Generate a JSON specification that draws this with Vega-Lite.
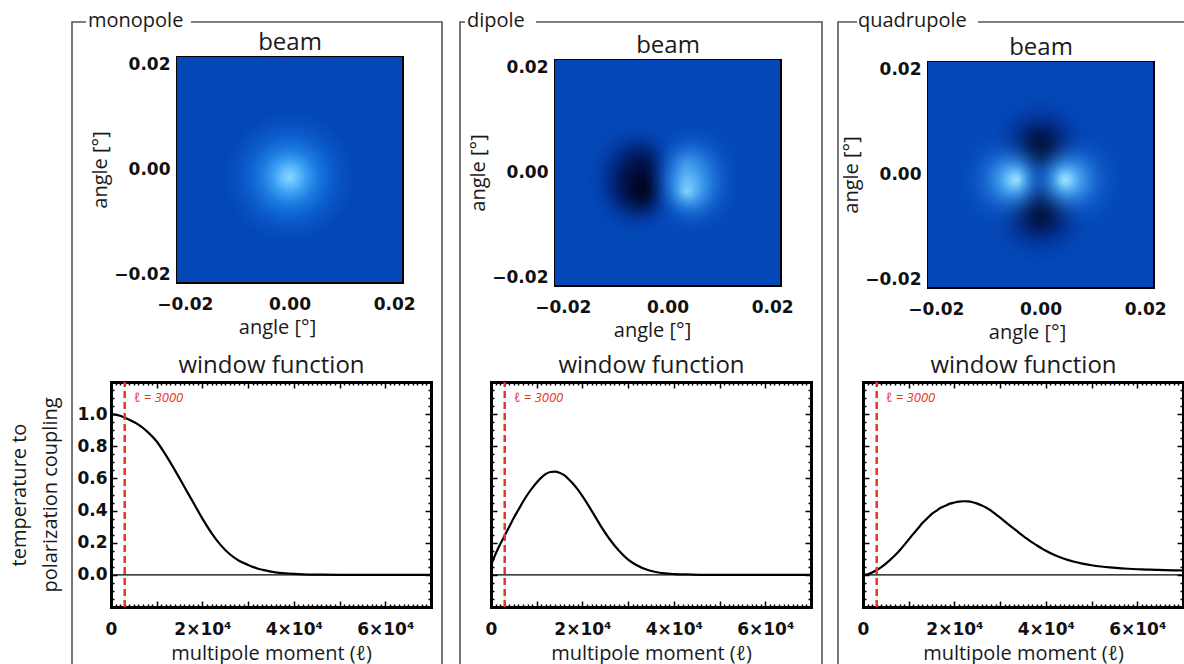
{
 "$schema": "https://vega.github.io/schema/vega-lite/v6.json",
 "width": 1184, "height": 664,
 "autosize": {"type": "none"},
 "padding": 0,
 "background": "white",
 "config": {
  "view": {"stroke": null},
  "font": "Open Sans",
  "axis": {"grid": false, "domainColor": "#000", "domainWidth": 3, "domainCap": "square", "tickColor": "#000", "tickWidth": 1.5,
   "labelFont": "DejaVu Sans", "labelFontWeight": "bold", "labelFontSize": 17, "labelColor": "#111", "labelFlush": false, "labelOverlap": false,
   "titleFont": "Open Sans", "titleFontWeight": "normal", "titleFontSize": 20, "titleColor": "#1a1a1a", "zindex": 1}
 },
 "datasets": {
  "lobes": [
   {"panel":"monopole","lobe":"m","ax":0,"ay":-0.0014,"d":0.025},
   {"panel":"dipole","lobe":"dd","ax":-0.0066,"ay":0.001,"d":0.02},
   {"panel":"dipole","lobe":"dd","ax":-0.0066,"ay":-0.0013,"d":0.02},
   {"panel":"dipole","lobe":"dd","ax":-0.0066,"ay":-0.0036,"d":0.02},
   {"panel":"dipole","lobe":"dl","ax":0.0056,"ay":0.001,"d":0.02},
   {"panel":"dipole","lobe":"dl","ax":0.0056,"ay":-0.0013,"d":0.02},
   {"panel":"dipole","lobe":"dl","ax":0.0056,"ay":-0.0036,"d":0.02},
   {"panel":"quadrupole","lobe":"qt","ax":0,"ay":0.0058,"d":0.022},
   {"panel":"quadrupole","lobe":"qb","ax":0,"ay":-0.0078,"d":0.022},
   {"panel":"quadrupole","lobe":"ql","ax":-0.0068,"ay":-0.001,"d":0.022},
   {"panel":"quadrupole","lobe":"qr","ax":0.0068,"ay":-0.001,"d":0.022}
  ],
  "curves": [
   {"panel":"monopole","l":0,"w":1.0},{"panel":"monopole","l":2000,"w":0.99},{"panel":"monopole","l":4000,"w":0.965},{"panel":"monopole","l":6000,"w":0.935},{"panel":"monopole","l":8000,"w":0.89},{"panel":"monopole","l":10000,"w":0.83},{"panel":"monopole","l":12000,"w":0.745},{"panel":"monopole","l":14000,"w":0.65},{"panel":"monopole","l":16000,"w":0.55},{"panel":"monopole","l":18000,"w":0.45},{"panel":"monopole","l":20000,"w":0.35},{"panel":"monopole","l":22000,"w":0.26},{"panel":"monopole","l":24000,"w":0.185},{"panel":"monopole","l":26000,"w":0.128},{"panel":"monopole","l":28000,"w":0.088},{"panel":"monopole","l":30000,"w":0.062},{"panel":"monopole","l":32000,"w":0.04},{"panel":"monopole","l":34000,"w":0.026},{"panel":"monopole","l":36000,"w":0.016},{"panel":"monopole","l":38000,"w":0.01},{"panel":"monopole","l":40000,"w":0.006},{"panel":"monopole","l":42000,"w":0.003},{"panel":"monopole","l":46000,"w":0.001},{"panel":"monopole","l":50000,"w":0},{"panel":"monopole","l":60000,"w":0},{"panel":"monopole","l":70000,"w":0},
   {"panel":"dipole","l":0,"w":0.06},{"panel":"dipole","l":1000,"w":0.13},{"panel":"dipole","l":2000,"w":0.19},{"panel":"dipole","l":3000,"w":0.245},{"panel":"dipole","l":4000,"w":0.3},{"panel":"dipole","l":5000,"w":0.355},{"panel":"dipole","l":6000,"w":0.405},{"panel":"dipole","l":7000,"w":0.455},{"panel":"dipole","l":8000,"w":0.5},{"panel":"dipole","l":9000,"w":0.54},{"panel":"dipole","l":10000,"w":0.575},{"panel":"dipole","l":11000,"w":0.605},{"panel":"dipole","l":12000,"w":0.628},{"panel":"dipole","l":13000,"w":0.64},{"panel":"dipole","l":14000,"w":0.642},{"panel":"dipole","l":15000,"w":0.635},{"panel":"dipole","l":16000,"w":0.62},{"panel":"dipole","l":17000,"w":0.595},{"panel":"dipole","l":18000,"w":0.565},{"panel":"dipole","l":19000,"w":0.53},{"panel":"dipole","l":20000,"w":0.49},{"panel":"dipole","l":22000,"w":0.4},{"panel":"dipole","l":24000,"w":0.305},{"panel":"dipole","l":26000,"w":0.22},{"panel":"dipole","l":28000,"w":0.15},{"panel":"dipole","l":30000,"w":0.095},{"panel":"dipole","l":32000,"w":0.058},{"panel":"dipole","l":34000,"w":0.033},{"panel":"dipole","l":36000,"w":0.018},{"panel":"dipole","l":38000,"w":0.009},{"panel":"dipole","l":40000,"w":0.005},{"panel":"dipole","l":44000,"w":0.002},{"panel":"dipole","l":50000,"w":0},{"panel":"dipole","l":60000,"w":0},{"panel":"dipole","l":70000,"w":0},
   {"panel":"quadrupole","l":0,"w":0},{"panel":"quadrupole","l":1000,"w":0.004},{"panel":"quadrupole","l":2000,"w":0.015},{"panel":"quadrupole","l":3000,"w":0.03},{"panel":"quadrupole","l":4000,"w":0.048},{"panel":"quadrupole","l":5000,"w":0.07},{"panel":"quadrupole","l":6000,"w":0.095},{"panel":"quadrupole","l":7000,"w":0.122},{"panel":"quadrupole","l":8000,"w":0.152},{"panel":"quadrupole","l":9000,"w":0.185},{"panel":"quadrupole","l":10000,"w":0.22},{"panel":"quadrupole","l":11000,"w":0.255},{"panel":"quadrupole","l":12000,"w":0.288},{"panel":"quadrupole","l":13000,"w":0.322},{"panel":"quadrupole","l":14000,"w":0.35},{"panel":"quadrupole","l":15000,"w":0.378},{"panel":"quadrupole","l":16000,"w":0.398},{"panel":"quadrupole","l":17000,"w":0.418},{"panel":"quadrupole","l":18000,"w":0.43},{"panel":"quadrupole","l":19000,"w":0.443},{"panel":"quadrupole","l":20000,"w":0.45},{"panel":"quadrupole","l":21000,"w":0.456},{"panel":"quadrupole","l":22000,"w":0.458},{"panel":"quadrupole","l":23000,"w":0.457},{"panel":"quadrupole","l":24000,"w":0.452},{"panel":"quadrupole","l":25000,"w":0.443},{"panel":"quadrupole","l":26000,"w":0.432},{"panel":"quadrupole","l":27000,"w":0.418},{"panel":"quadrupole","l":28000,"w":0.4},{"panel":"quadrupole","l":29000,"w":0.378},{"panel":"quadrupole","l":30000,"w":0.356},{"panel":"quadrupole","l":31000,"w":0.333},{"panel":"quadrupole","l":32000,"w":0.31},{"panel":"quadrupole","l":33000,"w":0.288},{"panel":"quadrupole","l":34000,"w":0.265},{"panel":"quadrupole","l":35000,"w":0.243},{"panel":"quadrupole","l":36000,"w":0.222},{"panel":"quadrupole","l":37000,"w":0.202},{"panel":"quadrupole","l":38000,"w":0.184},{"panel":"quadrupole","l":39000,"w":0.166},{"panel":"quadrupole","l":40000,"w":0.15},{"panel":"quadrupole","l":42000,"w":0.122},{"panel":"quadrupole","l":44000,"w":0.1},{"panel":"quadrupole","l":46000,"w":0.083},{"panel":"quadrupole","l":48000,"w":0.07},{"panel":"quadrupole","l":50000,"w":0.06},{"panel":"quadrupole","l":52000,"w":0.052},{"panel":"quadrupole","l":54000,"w":0.046},{"panel":"quadrupole","l":56000,"w":0.042},{"panel":"quadrupole","l":58000,"w":0.038},{"panel":"quadrupole","l":60000,"w":0.035},{"panel":"quadrupole","l":62000,"w":0.033},{"panel":"quadrupole","l":64000,"w":0.031},{"panel":"quadrupole","l":66000,"w":0.029},{"panel":"quadrupole","l":68000,"w":0.028},{"panel":"quadrupole","l":70000,"w":0.027}
  ],
  "zero": [{"l":0,"z":0},{"l":70000,"z":0}],
  "marker": [{"l":3000,"label":"ℓ = 3000"}]
 },
 "layer": [
  {
   "data": {"values": [{"panel":"monopole"}]},
   "layer": [
    {"mark": {"type":"rect","fillOpacity":0,"stroke":"#555","strokeWidth":1.6,"strokeDash":[14,105,4000]},
     "encoding": {"x": {"field":"panel","type":"nominal","scale":{"range":[72,442],"paddingInner":0,"paddingOuter":0},"axis":null},
                  "y": {"field":"panel","type":"nominal","scale":{"range":[22,720],"paddingInner":0,"paddingOuter":0},"axis":null}}},
    {"mark": {"type":"text","align":"left","baseline":"alphabetic","dx":16,"dy":4.5,"fontSize":20,"font":"Open Sans","color":"#1a1a1a"},
     "encoding": {"x": {"field":"panel","type":"nominal","bandPosition":0,"scale":{"range":[72,442],"paddingInner":0,"paddingOuter":0},"axis":null},
                  "y": {"field":"panel","type":"nominal","bandPosition":0,"scale":{"range":[22,720],"paddingInner":0,"paddingOuter":0},"axis":null},
                  "text": {"field":"panel"}}}
   ]
  },
  {
   "data": {"values": [{"panel":"dipole"}]},
   "layer": [
    {"mark": {"type":"rect","fillOpacity":0,"stroke":"#555","strokeWidth":1.6,"strokeDash":[5,71,4000]},
     "encoding": {"x": {"field":"panel","type":"nominal","scale":{"range":[460,822],"paddingInner":0,"paddingOuter":0},"axis":null},
                  "y": {"field":"panel","type":"nominal","scale":{"range":[22,720],"paddingInner":0,"paddingOuter":0},"axis":null}}},
    {"mark": {"type":"text","align":"left","baseline":"alphabetic","dx":7,"dy":4.5,"fontSize":20,"font":"Open Sans","color":"#1a1a1a"},
     "encoding": {"x": {"field":"panel","type":"nominal","bandPosition":0,"scale":{"range":[460,822],"paddingInner":0,"paddingOuter":0},"axis":null},
                  "y": {"field":"panel","type":"nominal","bandPosition":0,"scale":{"range":[22,720],"paddingInner":0,"paddingOuter":0},"axis":null},
                  "text": {"field":"panel"}}}
   ]
  },
  {
   "data": {"values": [{"panel":"quadrupole"}]},
   "layer": [
    {"mark": {"type":"rect","fillOpacity":0,"stroke":"#555","strokeWidth":1.6,"strokeDash":[19,121,4000]},
     "encoding": {"x": {"field":"panel","type":"nominal","scale":{"range":[838,1210],"paddingInner":0,"paddingOuter":0},"axis":null},
                  "y": {"field":"panel","type":"nominal","scale":{"range":[22,720],"paddingInner":0,"paddingOuter":0},"axis":null}}},
    {"mark": {"type":"text","align":"left","baseline":"alphabetic","dx":20,"dy":4.5,"fontSize":20,"font":"Open Sans","color":"#1a1a1a"},
     "encoding": {"x": {"field":"panel","type":"nominal","bandPosition":0,"scale":{"range":[838,1210],"paddingInner":0,"paddingOuter":0},"axis":null},
                  "y": {"field":"panel","type":"nominal","bandPosition":0,"scale":{"range":[22,720],"paddingInner":0,"paddingOuter":0},"axis":null},
                  "text": {"field":"panel"}}}
   ]
  },
  {
   "data": {"values": [{"panel":"monopole"}]},
   "mark": {"type":"rect","fill":"#0448b8"},
   "encoding": {"x": {"field":"panel","type":"nominal","scale":{"range":[177,402],"paddingInner":0,"paddingOuter":0},"axis":null},
                "y": {"field":"panel","type":"nominal","scale":{"range":[57,282],"paddingInner":0,"paddingOuter":0},"axis":null}}
  },
  {
   "data": {"values": [{"panel":"dipole"}]},
   "mark": {"type":"rect","fill":"#0448b8"},
   "encoding": {"x": {"field":"panel","type":"nominal","scale":{"range":[555,780],"paddingInner":0,"paddingOuter":0},"axis":null},
                "y": {"field":"panel","type":"nominal","scale":{"range":[60,285],"paddingInner":0,"paddingOuter":0},"axis":null}}
  },
  {
   "data": {"values": [{"panel":"quadrupole"}]},
   "mark": {"type":"rect","fill":"#0448b8"},
   "encoding": {"x": {"field":"panel","type":"nominal","scale":{"range":[928,1153],"paddingInner":0,"paddingOuter":0},"axis":null},
                "y": {"field":"panel","type":"nominal","scale":{"range":[62,287],"paddingInner":0,"paddingOuter":0},"axis":null}}
  },
  {
   "data": {"name": "lobes"},
   "transform": [{"filter": "datum.panel == 'monopole'"}],
   "layer": [
    {"mark": {"type":"point","shape":"circle","filled":true,"opacity":1,"strokeWidth":0,
      "fill": {"gradient":"radial","x1":0.5,"y1":0.5,"r1":0,"x2":0.5,"y2":0.5,"r2":0.5,"stops":[{"offset":0,"color":"#8ad5ff"},{"offset":0.1,"color":"#6cc4ff"},{"offset":0.25,"color":"#3a9ff2"},{"offset":0.42,"color":"#1c7ae0"},{"offset":0.62,"color":"#0d60ce"},{"offset":0.82,"color":"#074fbf"},{"offset":1,"color":"#0448b8"}]}},
     "encoding": {
      "x": {"field":"ax","type":"quantitative","scale":{"domain":[-0.0215,0.0215],"range":[177,402],"nice":false,"zero":false},
            "axis": {"orient":"bottom","offset":-382,"values":[-0.021,-0.02,-0.019,-0.018,-0.017,-0.016,-0.015,-0.014,-0.013,-0.012,-0.011,-0.01,-0.009,-0.008,-0.007,-0.006,-0.005,-0.004,-0.003,-0.002,-0.001,0,0.001,0.002,0.003,0.004,0.005,0.006,0.007,0.008,0.009,0.01,0.011,0.012,0.013,0.014,0.015,0.016,0.017,0.018,0.019,0.02,0.021],
             "tickSize":{"condition":{"test":"abs(datum.value*100-round(datum.value*100))<1e-6","value":-6},"value":-3},
             "labelExpr":"abs(datum.value*50-round(datum.value*50))<1e-6 ? format(datum.value,'.2f') : ''","labelPadding":20,"title":"angle [°]","titlePadding":2,"titleX":277}},
      "y": {"field":"ay","type":"quantitative","scale":{"domain":[-0.0215,0.0215],"range":[282,57],"nice":false,"zero":false},
            "axis": {"orient":"left","offset":-177,"values":[-0.021,-0.02,-0.019,-0.018,-0.017,-0.016,-0.015,-0.014,-0.013,-0.012,-0.011,-0.01,-0.009,-0.008,-0.007,-0.006,-0.005,-0.004,-0.003,-0.002,-0.001,0,0.001,0.002,0.003,0.004,0.005,0.006,0.007,0.008,0.009,0.01,0.011,0.012,0.013,0.014,0.015,0.016,0.017,0.018,0.019,0.02,0.021],
             "tickSize":{"condition":{"test":"abs(datum.value*100-round(datum.value*100))<1e-6","value":-6},"value":-3},
             "labelExpr":"abs(datum.value*50-round(datum.value*50))<1e-6 ? format(datum.value,'.2f') : ''","labelPadding":13,"title":"angle [°]","titlePadding":3}},
      "size": {"field":"d","type":"quantitative","scale":{"type":"pow","exponent":2,"domain":[0,0.043],"range":[0,50625]},"legend":null}
     }},
    {"mark": {"type":"point","shape":"circle","filled":true,"opacity":0},
     "encoding": {
      "x": {"field":"ax","type":"quantitative","scale":{"domain":[-0.0215,0.0215],"range":[177,402],"nice":false,"zero":false},
            "axis": {"orient":"top","offset":-57,"values":[-0.021,-0.02,-0.019,-0.018,-0.017,-0.016,-0.015,-0.014,-0.013,-0.012,-0.011,-0.01,-0.009,-0.008,-0.007,-0.006,-0.005,-0.004,-0.003,-0.002,-0.001,0,0.001,0.002,0.003,0.004,0.005,0.006,0.007,0.008,0.009,0.01,0.011,0.012,0.013,0.014,0.015,0.016,0.017,0.018,0.019,0.02,0.021],
             "tickSize":{"condition":{"test":"abs(datum.value*100-round(datum.value*100))<1e-6","value":-6},"value":-3},
             "labels":false,"title":"beam","titleFontSize":24,"titlePadding":2}},
      "y": {"field":"ay","type":"quantitative","scale":{"domain":[-0.0215,0.0215],"range":[282,57],"nice":false,"zero":false},
            "axis": {"orient":"right","offset":-782,"values":[-0.021,-0.02,-0.019,-0.018,-0.017,-0.016,-0.015,-0.014,-0.013,-0.012,-0.011,-0.01,-0.009,-0.008,-0.007,-0.006,-0.005,-0.004,-0.003,-0.002,-0.001,0,0.001,0.002,0.003,0.004,0.005,0.006,0.007,0.008,0.009,0.01,0.011,0.012,0.013,0.014,0.015,0.016,0.017,0.018,0.019,0.02,0.021],
             "tickSize":{"condition":{"test":"abs(datum.value*100-round(datum.value*100))<1e-6","value":-6},"value":-3},
             "labels":false,"title":null}},
      "size": {"field":"d","type":"quantitative","scale":{"type":"pow","exponent":2,"domain":[0,0.043],"range":[0,50625]},"legend":null}
     }}
   ],
   "resolve": {"axis": {"x":"independent","y":"independent"}}
  },
  {
   "data": {"name": "lobes"},
   "transform": [{"filter": "datum.panel == 'dipole'"}],
   "layer": [
    {"transform": [{"filter": "datum.lobe == 'dd'"}],
     "mark": {"type":"point","shape":"circle","filled":true,"opacity":1,"strokeWidth":0,
      "fill": {"gradient":"radial","x1":0.6,"y1":0.5,"r1":0,"x2":0.5,"y2":0.5,"r2":0.5,"stops":[{"offset":0,"color":"rgba(0,3,25,0.85)"},{"offset":0.15,"color":"rgba(0,5,32,0.75)"},{"offset":0.35,"color":"rgba(0,14,65,0.55)"},{"offset":0.55,"color":"rgba(0,28,110,0.3)"},{"offset":0.75,"color":"rgba(2,45,150,0.12)"},{"offset":0.9,"color":"rgba(3,60,170,0.04)"},{"offset":1,"color":"rgba(4,72,184,0)"}]}},
     "encoding": {
      "x": {"field":"ax","type":"quantitative","scale":{"domain":[-0.0215,0.0215],"range":[555,780],"nice":false,"zero":false},
            "axis": {"orient":"bottom","offset":-379,"values":[-0.021,-0.02,-0.019,-0.018,-0.017,-0.016,-0.015,-0.014,-0.013,-0.012,-0.011,-0.01,-0.009,-0.008,-0.007,-0.006,-0.005,-0.004,-0.003,-0.002,-0.001,0,0.001,0.002,0.003,0.004,0.005,0.006,0.007,0.008,0.009,0.01,0.011,0.012,0.013,0.014,0.015,0.016,0.017,0.018,0.019,0.02,0.021],
             "tickSize":{"condition":{"test":"abs(datum.value*100-round(datum.value*100))<1e-6","value":-6},"value":-3},
             "labelExpr":"abs(datum.value*50-round(datum.value*50))<1e-6 ? format(datum.value,'.2f') : ''","labelPadding":20,"title":"angle [°]","titlePadding":2,"titleX":652}},
      "y": {"field":"ay","type":"quantitative","scale":{"domain":[-0.0215,0.0215],"range":[285,60],"nice":false,"zero":false},
            "axis": {"orient":"left","offset":-555,"values":[-0.021,-0.02,-0.019,-0.018,-0.017,-0.016,-0.015,-0.014,-0.013,-0.012,-0.011,-0.01,-0.009,-0.008,-0.007,-0.006,-0.005,-0.004,-0.003,-0.002,-0.001,0,0.001,0.002,0.003,0.004,0.005,0.006,0.007,0.008,0.009,0.01,0.011,0.012,0.013,0.014,0.015,0.016,0.017,0.018,0.019,0.02,0.021],
             "tickSize":{"condition":{"test":"abs(datum.value*100-round(datum.value*100))<1e-6","value":-6},"value":-3},
             "labelExpr":"abs(datum.value*50-round(datum.value*50))<1e-6 ? format(datum.value,'.2f') : ''","labelPadding":13,"title":"angle [°]","titlePadding":3}},
      "size": {"field":"d","type":"quantitative","scale":{"type":"pow","exponent":2,"domain":[0,0.043],"range":[0,50625]},"legend":null}
     }},
    {"transform": [{"filter": "datum.lobe == 'dl'"}],
     "mark": {"type":"point","shape":"circle","filled":true,"opacity":1,"strokeWidth":0,
      "fill": {"gradient":"radial","x1":0.4,"y1":0.5,"r1":0,"x2":0.5,"y2":0.5,"r2":0.5,"stops":[{"offset":0,"color":"rgba(155,224,255,0.8)"},{"offset":0.1,"color":"rgba(125,208,255,0.72)"},{"offset":0.25,"color":"rgba(75,172,248,0.58)"},{"offset":0.45,"color":"rgba(40,130,228,0.38)"},{"offset":0.65,"color":"rgba(20,100,210,0.18)"},{"offset":0.85,"color":"rgba(8,80,195,0.05)"},{"offset":1,"color":"rgba(4,72,184,0)"}]}},
     "encoding": {
      "x": {"field":"ax","type":"quantitative","scale":{"domain":[-0.0215,0.0215],"range":[555,780],"nice":false,"zero":false},
            "axis": {"orient":"top","offset":-60,"values":[-0.021,-0.02,-0.019,-0.018,-0.017,-0.016,-0.015,-0.014,-0.013,-0.012,-0.011,-0.01,-0.009,-0.008,-0.007,-0.006,-0.005,-0.004,-0.003,-0.002,-0.001,0,0.001,0.002,0.003,0.004,0.005,0.006,0.007,0.008,0.009,0.01,0.011,0.012,0.013,0.014,0.015,0.016,0.017,0.018,0.019,0.02,0.021],
             "tickSize":{"condition":{"test":"abs(datum.value*100-round(datum.value*100))<1e-6","value":-6},"value":-3},
             "labels":false,"title":"beam","titleFontSize":24,"titlePadding":2}},
      "y": {"field":"ay","type":"quantitative","scale":{"domain":[-0.0215,0.0215],"range":[285,60],"nice":false,"zero":false},
            "axis": {"orient":"right","offset":-404,"values":[-0.021,-0.02,-0.019,-0.018,-0.017,-0.016,-0.015,-0.014,-0.013,-0.012,-0.011,-0.01,-0.009,-0.008,-0.007,-0.006,-0.005,-0.004,-0.003,-0.002,-0.001,0,0.001,0.002,0.003,0.004,0.005,0.006,0.007,0.008,0.009,0.01,0.011,0.012,0.013,0.014,0.015,0.016,0.017,0.018,0.019,0.02,0.021],
             "tickSize":{"condition":{"test":"abs(datum.value*100-round(datum.value*100))<1e-6","value":-6},"value":-3},
             "labels":false,"title":null}},
      "size": {"field":"d","type":"quantitative","scale":{"type":"pow","exponent":2,"domain":[0,0.043],"range":[0,50625]},"legend":null}
     }}
   ],
   "resolve": {"axis": {"x":"independent","y":"independent"}}
  },
  {
   "data": {"name": "lobes"},
   "transform": [{"filter": "datum.panel == 'quadrupole'"}],
   "layer": [
    {"transform": [{"filter": "datum.lobe == 'qt'"}],
     "mark": {"type":"point","shape":"circle","filled":true,"opacity":1,"strokeWidth":0,
      "fill": {"gradient":"radial","x1":0.5,"y1":0.6,"r1":0,"x2":0.5,"y2":0.5,"r2":0.5,"stops":[{"offset":0,"color":"rgba(0,3,25,1)"},{"offset":0.15,"color":"rgba(0,5,32,0.95)"},{"offset":0.35,"color":"rgba(0,14,65,0.75)"},{"offset":0.55,"color":"rgba(0,28,110,0.45)"},{"offset":0.75,"color":"rgba(2,45,150,0.18)"},{"offset":0.9,"color":"rgba(3,60,170,0.05)"},{"offset":1,"color":"rgba(4,72,184,0)"}]}},
     "encoding": {
      "x": {"field":"ax","type":"quantitative","scale":{"domain":[-0.0215,0.0215],"range":[928,1153],"nice":false,"zero":false},
            "axis": {"orient":"bottom","offset":-377,"values":[-0.021,-0.02,-0.019,-0.018,-0.017,-0.016,-0.015,-0.014,-0.013,-0.012,-0.011,-0.01,-0.009,-0.008,-0.007,-0.006,-0.005,-0.004,-0.003,-0.002,-0.001,0,0.001,0.002,0.003,0.004,0.005,0.006,0.007,0.008,0.009,0.01,0.011,0.012,0.013,0.014,0.015,0.016,0.017,0.018,0.019,0.02,0.021],
             "tickSize":{"condition":{"test":"abs(datum.value*100-round(datum.value*100))<1e-6","value":-6},"value":-3},
             "labelExpr":"abs(datum.value*50-round(datum.value*50))<1e-6 ? format(datum.value,'.2f') : ''","labelPadding":20,"title":"angle [°]","titlePadding":2,"titleX":1027}},
      "y": {"field":"ay","type":"quantitative","scale":{"domain":[-0.0215,0.0215],"range":[287,62],"nice":false,"zero":false},
            "axis": {"orient":"left","offset":-928,"values":[-0.021,-0.02,-0.019,-0.018,-0.017,-0.016,-0.015,-0.014,-0.013,-0.012,-0.011,-0.01,-0.009,-0.008,-0.007,-0.006,-0.005,-0.004,-0.003,-0.002,-0.001,0,0.001,0.002,0.003,0.004,0.005,0.006,0.007,0.008,0.009,0.01,0.011,0.012,0.013,0.014,0.015,0.016,0.017,0.018,0.019,0.02,0.021],
             "tickSize":{"condition":{"test":"abs(datum.value*100-round(datum.value*100))<1e-6","value":-6},"value":-3},
             "labelExpr":"abs(datum.value*50-round(datum.value*50))<1e-6 ? format(datum.value,'.2f') : ''","labelPadding":13,"title":"angle [°]","titlePadding":3}},
      "size": {"field":"d","type":"quantitative","scale":{"type":"pow","exponent":2,"domain":[0,0.043],"range":[0,50625]},"legend":null}
     }},
    {"transform": [{"filter": "datum.lobe == 'qb'"}],
     "mark": {"type":"point","shape":"circle","filled":true,"opacity":1,"strokeWidth":0,
      "fill": {"gradient":"radial","x1":0.5,"y1":0.4,"r1":0,"x2":0.5,"y2":0.5,"r2":0.5,"stops":[{"offset":0,"color":"rgba(0,3,25,1)"},{"offset":0.15,"color":"rgba(0,5,32,0.95)"},{"offset":0.35,"color":"rgba(0,14,65,0.75)"},{"offset":0.55,"color":"rgba(0,28,110,0.45)"},{"offset":0.75,"color":"rgba(2,45,150,0.18)"},{"offset":0.9,"color":"rgba(3,60,170,0.05)"},{"offset":1,"color":"rgba(4,72,184,0)"}]}},
     "encoding": {
      "x": {"field":"ax","type":"quantitative","scale":{"domain":[-0.0215,0.0215],"range":[928,1153],"nice":false,"zero":false},
            "axis": {"orient":"top","offset":-62,"values":[-0.021,-0.02,-0.019,-0.018,-0.017,-0.016,-0.015,-0.014,-0.013,-0.012,-0.011,-0.01,-0.009,-0.008,-0.007,-0.006,-0.005,-0.004,-0.003,-0.002,-0.001,0,0.001,0.002,0.003,0.004,0.005,0.006,0.007,0.008,0.009,0.01,0.011,0.012,0.013,0.014,0.015,0.016,0.017,0.018,0.019,0.02,0.021],
             "tickSize":{"condition":{"test":"abs(datum.value*100-round(datum.value*100))<1e-6","value":-6},"value":-3},
             "labels":false,"title":"beam","titleFontSize":24,"titlePadding":2}},
      "y": {"field":"ay","type":"quantitative","scale":{"domain":[-0.0215,0.0215],"range":[287,62],"nice":false,"zero":false},
            "axis": {"orient":"right","offset":-31,"values":[-0.021,-0.02,-0.019,-0.018,-0.017,-0.016,-0.015,-0.014,-0.013,-0.012,-0.011,-0.01,-0.009,-0.008,-0.007,-0.006,-0.005,-0.004,-0.003,-0.002,-0.001,0,0.001,0.002,0.003,0.004,0.005,0.006,0.007,0.008,0.009,0.01,0.011,0.012,0.013,0.014,0.015,0.016,0.017,0.018,0.019,0.02,0.021],
             "tickSize":{"condition":{"test":"abs(datum.value*100-round(datum.value*100))<1e-6","value":-6},"value":-3},
             "labels":false,"title":null}},
      "size": {"field":"d","type":"quantitative","scale":{"type":"pow","exponent":2,"domain":[0,0.043],"range":[0,50625]},"legend":null}
     }},
    {"transform": [{"filter": "datum.lobe == 'ql'"}],
     "mark": {"type":"point","shape":"circle","filled":true,"opacity":1,"strokeWidth":0,
      "fill": {"gradient":"radial","x1":0.6,"y1":0.5,"r1":0,"x2":0.5,"y2":0.5,"r2":0.5,"stops":[{"offset":0,"color":"rgba(160,226,255,1)"},{"offset":0.1,"color":"rgba(125,208,255,0.95)"},{"offset":0.25,"color":"rgba(75,172,248,0.8)"},{"offset":0.45,"color":"rgba(40,130,228,0.55)"},{"offset":0.65,"color":"rgba(20,100,210,0.28)"},{"offset":0.85,"color":"rgba(8,80,195,0.08)"},{"offset":1,"color":"rgba(4,72,184,0)"}]}},
     "encoding": {
      "x": {"field":"ax","type":"quantitative","scale":{"domain":[-0.0215,0.0215],"range":[928,1153],"nice":false,"zero":false},"axis":null},
      "y": {"field":"ay","type":"quantitative","scale":{"domain":[-0.0215,0.0215],"range":[287,62],"nice":false,"zero":false},"axis":null},
      "size": {"field":"d","type":"quantitative","scale":{"type":"pow","exponent":2,"domain":[0,0.043],"range":[0,50625]},"legend":null}
     }},
    {"transform": [{"filter": "datum.lobe == 'qr'"}],
     "mark": {"type":"point","shape":"circle","filled":true,"opacity":1,"strokeWidth":0,
      "fill": {"gradient":"radial","x1":0.4,"y1":0.5,"r1":0,"x2":0.5,"y2":0.5,"r2":0.5,"stops":[{"offset":0,"color":"rgba(160,226,255,1)"},{"offset":0.1,"color":"rgba(125,208,255,0.95)"},{"offset":0.25,"color":"rgba(75,172,248,0.8)"},{"offset":0.45,"color":"rgba(40,130,228,0.55)"},{"offset":0.65,"color":"rgba(20,100,210,0.28)"},{"offset":0.85,"color":"rgba(8,80,195,0.08)"},{"offset":1,"color":"rgba(4,72,184,0)"}]}},
     "encoding": {
      "x": {"field":"ax","type":"quantitative","scale":{"domain":[-0.0215,0.0215],"range":[928,1153],"nice":false,"zero":false},"axis":null},
      "y": {"field":"ay","type":"quantitative","scale":{"domain":[-0.0215,0.0215],"range":[287,62],"nice":false,"zero":false},"axis":null},
      "size": {"field":"d","type":"quantitative","scale":{"type":"pow","exponent":2,"domain":[0,0.043],"range":[0,50625]},"legend":null}
     }}
   ],
   "resolve": {"axis": {"x":"independent","y":"independent"}}
  },
  {
   "layer": [
    {"data": {"name":"curves"}, "transform": [{"filter": "datum.panel == 'monopole'"}],
     "mark": {"type":"line","color":"#000","strokeWidth":2.2,"interpolate":"monotone"},
     "encoding": {
      "x": {"field":"l","type":"quantitative","scale":{"domain":[0,70000],"range":[111,431],"nice":false,"zero":false},
            "axis": {"orient":"bottom","offset":-57,"values":[0,1000,2000,3000,4000,5000,6000,7000,8000,9000,10000,11000,12000,13000,14000,15000,16000,17000,18000,19000,20000,21000,22000,23000,24000,25000,26000,27000,28000,29000,30000,31000,32000,33000,34000,35000,36000,37000,38000,39000,40000,41000,42000,43000,44000,45000,46000,47000,48000,49000,50000,51000,52000,53000,54000,55000,56000,57000,58000,59000,60000,61000,62000,63000,64000,65000,66000,67000,68000,69000,70000],
             "tickSize":{"condition":{"test":"datum.value % 10000 == 0","value":-6},"value":-3},
             "labelExpr":"datum.value % 20000 == 0 && datum.value < 70000 ? (datum.value == 0 ? '0' : (datum.value/10000) + '×10⁴') : ''","labelPadding":20,"title":"multipole moment (ℓ)","titlePadding":3}},
      "y": {"field":"w","type":"quantitative","scale":{"domain":[-0.2,1.2],"range":[607,382],"nice":false,"zero":false},
            "axis": {"orient":"left","offset":-111,"values":[-0.2,-0.15,-0.1,-0.05,0,0.05,0.1,0.15,0.2,0.25,0.3,0.35,0.4,0.45,0.5,0.55,0.6,0.65,0.7,0.75,0.8,0.85,0.9,0.95,1,1.05,1.1,1.15,1.2],
             "tickSize":{"condition":{"test":"abs(datum.value*5-round(datum.value*5))<1e-6","value":-6},"value":-3},
             "labelExpr":"abs(datum.value*5-round(datum.value*5))<1e-6 && datum.value > -0.01 && datum.value < 1.01 ? format(datum.value,'.1f') : ''","labelPadding":10,
             "title":["temperature to","polarization coupling"],"titlePadding":16,"titleLineHeight":31}}
     }},
    {"data": {"name":"zero"},
     "mark": {"type":"line","color":"#000","strokeWidth":1.3},
     "encoding": {
      "x": {"field":"l","type":"quantitative","scale":{"domain":[0,70000],"range":[111,431],"nice":false,"zero":false},
            "axis": {"orient":"top","offset":-382,"values":[0,1000,2000,3000,4000,5000,6000,7000,8000,9000,10000,11000,12000,13000,14000,15000,16000,17000,18000,19000,20000,21000,22000,23000,24000,25000,26000,27000,28000,29000,30000,31000,32000,33000,34000,35000,36000,37000,38000,39000,40000,41000,42000,43000,44000,45000,46000,47000,48000,49000,50000,51000,52000,53000,54000,55000,56000,57000,58000,59000,60000,61000,62000,63000,64000,65000,66000,67000,68000,69000,70000],
             "tickSize":{"condition":{"test":"datum.value % 10000 == 0","value":-6},"value":-3},
             "labels":false,"title":"window function","titleFontSize":24,"titlePadding":4}},
      "y": {"field":"z","type":"quantitative","scale":{"domain":[-0.2,1.2],"range":[607,382],"nice":false,"zero":false},
            "axis": {"orient":"right","offset":-753,"values":[-0.2,-0.15,-0.1,-0.05,0,0.05,0.1,0.15,0.2,0.25,0.3,0.35,0.4,0.45,0.5,0.55,0.6,0.65,0.7,0.75,0.8,0.85,0.9,0.95,1,1.05,1.1,1.15,1.2],
             "tickSize":{"condition":{"test":"abs(datum.value*5-round(datum.value*5))<1e-6","value":-6},"value":-3},
             "labels":false,"title":null}}
     }},
    {"data": {"name":"marker"},
     "mark": {"type":"rule","color":"#e8361e","strokeWidth":2.5,"strokeDash":[7,4]},
     "encoding": {
      "x": {"field":"l","type":"quantitative","scale":{"domain":[0,70000],"range":[111,431],"nice":false,"zero":false},"axis":null},
      "y": {"datum":-0.2,"type":"quantitative","scale":{"domain":[-0.2,1.2],"range":[607,382],"nice":false,"zero":false},"axis":null},
      "y2": {"datum":1.2}
     }},
    {"data": {"name":"marker"},
     "mark": {"type":"text","align":"left","baseline":"middle","dx":9,"font":"Open Sans","fontStyle":"italic","fontSize":13,"color":"#e8361e"},
     "encoding": {
      "x": {"field":"l","type":"quantitative","scale":{"domain":[0,70000],"range":[111,431],"nice":false,"zero":false},"axis":null},
      "y": {"datum":1.1,"type":"quantitative","scale":{"domain":[-0.2,1.2],"range":[607,382],"nice":false,"zero":false},"axis":null},
      "text": {"field":"label"}
     }}
   ],
   "resolve": {"axis": {"x":"independent","y":"independent"}}
  },
  {
   "layer": [
    {"data": {"name":"curves"}, "transform": [{"filter": "datum.panel == 'dipole'"}],
     "mark": {"type":"line","color":"#000","strokeWidth":2.2,"interpolate":"monotone"},
     "encoding": {
      "x": {"field":"l","type":"quantitative","scale":{"domain":[0,70000],"range":[491,811],"nice":false,"zero":false},
            "axis": {"orient":"bottom","offset":-57,"values":[0,1000,2000,3000,4000,5000,6000,7000,8000,9000,10000,11000,12000,13000,14000,15000,16000,17000,18000,19000,20000,21000,22000,23000,24000,25000,26000,27000,28000,29000,30000,31000,32000,33000,34000,35000,36000,37000,38000,39000,40000,41000,42000,43000,44000,45000,46000,47000,48000,49000,50000,51000,52000,53000,54000,55000,56000,57000,58000,59000,60000,61000,62000,63000,64000,65000,66000,67000,68000,69000,70000],
             "tickSize":{"condition":{"test":"datum.value % 10000 == 0","value":-6},"value":-3},
             "labelExpr":"datum.value % 20000 == 0 && datum.value < 70000 ? (datum.value == 0 ? '0' : (datum.value/10000) + '×10⁴') : ''","labelPadding":20,"title":"multipole moment (ℓ)","titlePadding":3}},
      "y": {"field":"w","type":"quantitative","scale":{"domain":[-0.2,1.2],"range":[607,382],"nice":false,"zero":false},
            "axis": {"orient":"left","offset":-491,"values":[-0.2,-0.15,-0.1,-0.05,0,0.05,0.1,0.15,0.2,0.25,0.3,0.35,0.4,0.45,0.5,0.55,0.6,0.65,0.7,0.75,0.8,0.85,0.9,0.95,1,1.05,1.1,1.15,1.2],
             "tickSize":{"condition":{"test":"abs(datum.value*5-round(datum.value*5))<1e-6","value":-6},"value":-3},
             "labels":false,"title":null}}
     }},
    {"data": {"name":"zero"},
     "mark": {"type":"line","color":"#000","strokeWidth":1.3},
     "encoding": {
      "x": {"field":"l","type":"quantitative","scale":{"domain":[0,70000],"range":[491,811],"nice":false,"zero":false},
            "axis": {"orient":"top","offset":-382,"values":[0,1000,2000,3000,4000,5000,6000,7000,8000,9000,10000,11000,12000,13000,14000,15000,16000,17000,18000,19000,20000,21000,22000,23000,24000,25000,26000,27000,28000,29000,30000,31000,32000,33000,34000,35000,36000,37000,38000,39000,40000,41000,42000,43000,44000,45000,46000,47000,48000,49000,50000,51000,52000,53000,54000,55000,56000,57000,58000,59000,60000,61000,62000,63000,64000,65000,66000,67000,68000,69000,70000],
             "tickSize":{"condition":{"test":"datum.value % 10000 == 0","value":-6},"value":-3},
             "labels":false,"title":"window function","titleFontSize":24,"titlePadding":4}},
      "y": {"field":"z","type":"quantitative","scale":{"domain":[-0.2,1.2],"range":[607,382],"nice":false,"zero":false},
            "axis": {"orient":"right","offset":-373,"values":[-0.2,-0.15,-0.1,-0.05,0,0.05,0.1,0.15,0.2,0.25,0.3,0.35,0.4,0.45,0.5,0.55,0.6,0.65,0.7,0.75,0.8,0.85,0.9,0.95,1,1.05,1.1,1.15,1.2],
             "tickSize":{"condition":{"test":"abs(datum.value*5-round(datum.value*5))<1e-6","value":-6},"value":-3},
             "labels":false,"title":null}}
     }},
    {"data": {"name":"marker"},
     "mark": {"type":"rule","color":"#e8361e","strokeWidth":2.5,"strokeDash":[7,4]},
     "encoding": {
      "x": {"field":"l","type":"quantitative","scale":{"domain":[0,70000],"range":[491,811],"nice":false,"zero":false},"axis":null},
      "y": {"datum":-0.2,"type":"quantitative","scale":{"domain":[-0.2,1.2],"range":[607,382],"nice":false,"zero":false},"axis":null},
      "y2": {"datum":1.2}
     }},
    {"data": {"name":"marker"},
     "mark": {"type":"text","align":"left","baseline":"middle","dx":9,"font":"Open Sans","fontStyle":"italic","fontSize":13,"color":"#e8361e"},
     "encoding": {
      "x": {"field":"l","type":"quantitative","scale":{"domain":[0,70000],"range":[491,811],"nice":false,"zero":false},"axis":null},
      "y": {"datum":1.1,"type":"quantitative","scale":{"domain":[-0.2,1.2],"range":[607,382],"nice":false,"zero":false},"axis":null},
      "text": {"field":"label"}
     }}
   ],
   "resolve": {"axis": {"x":"independent","y":"independent"}}
  },
  {
   "layer": [
    {"data": {"name":"curves"}, "transform": [{"filter": "datum.panel == 'quadrupole'"}],
     "mark": {"type":"line","color":"#000","strokeWidth":2.2,"interpolate":"monotone"},
     "encoding": {
      "x": {"field":"l","type":"quantitative","scale":{"domain":[0,70000],"range":[863,1183],"nice":false,"zero":false},
            "axis": {"orient":"bottom","offset":-57,"values":[0,1000,2000,3000,4000,5000,6000,7000,8000,9000,10000,11000,12000,13000,14000,15000,16000,17000,18000,19000,20000,21000,22000,23000,24000,25000,26000,27000,28000,29000,30000,31000,32000,33000,34000,35000,36000,37000,38000,39000,40000,41000,42000,43000,44000,45000,46000,47000,48000,49000,50000,51000,52000,53000,54000,55000,56000,57000,58000,59000,60000,61000,62000,63000,64000,65000,66000,67000,68000,69000,70000],
             "tickSize":{"condition":{"test":"datum.value % 10000 == 0","value":-6},"value":-3},
             "labelExpr":"datum.value % 20000 == 0 && datum.value < 70000 ? (datum.value == 0 ? '0' : (datum.value/10000) + '×10⁴') : ''","labelPadding":20,"title":"multipole moment (ℓ)","titlePadding":3}},
      "y": {"field":"w","type":"quantitative","scale":{"domain":[-0.2,1.2],"range":[607,382],"nice":false,"zero":false},
            "axis": {"orient":"left","offset":-863,"values":[-0.2,-0.15,-0.1,-0.05,0,0.05,0.1,0.15,0.2,0.25,0.3,0.35,0.4,0.45,0.5,0.55,0.6,0.65,0.7,0.75,0.8,0.85,0.9,0.95,1,1.05,1.1,1.15,1.2],
             "tickSize":{"condition":{"test":"abs(datum.value*5-round(datum.value*5))<1e-6","value":-6},"value":-3},
             "labels":false,"title":null}}
     }},
    {"data": {"name":"zero"},
     "mark": {"type":"line","color":"#000","strokeWidth":1.3},
     "encoding": {
      "x": {"field":"l","type":"quantitative","scale":{"domain":[0,70000],"range":[863,1183],"nice":false,"zero":false},
            "axis": {"orient":"top","offset":-382,"values":[0,1000,2000,3000,4000,5000,6000,7000,8000,9000,10000,11000,12000,13000,14000,15000,16000,17000,18000,19000,20000,21000,22000,23000,24000,25000,26000,27000,28000,29000,30000,31000,32000,33000,34000,35000,36000,37000,38000,39000,40000,41000,42000,43000,44000,45000,46000,47000,48000,49000,50000,51000,52000,53000,54000,55000,56000,57000,58000,59000,60000,61000,62000,63000,64000,65000,66000,67000,68000,69000,70000],
             "tickSize":{"condition":{"test":"datum.value % 10000 == 0","value":-6},"value":-3},
             "labels":false,"title":"window function","titleFontSize":24,"titlePadding":4}},
      "y": {"field":"z","type":"quantitative","scale":{"domain":[-0.2,1.2],"range":[607,382],"nice":false,"zero":false},
            "axis": {"orient":"right","offset":-1,"values":[-0.2,-0.15,-0.1,-0.05,0,0.05,0.1,0.15,0.2,0.25,0.3,0.35,0.4,0.45,0.5,0.55,0.6,0.65,0.7,0.75,0.8,0.85,0.9,0.95,1,1.05,1.1,1.15,1.2],
             "tickSize":{"condition":{"test":"abs(datum.value*5-round(datum.value*5))<1e-6","value":-6},"value":-3},
             "labels":false,"title":null}}
     }},
    {"data": {"name":"marker"},
     "mark": {"type":"rule","color":"#e8361e","strokeWidth":2.5,"strokeDash":[7,4]},
     "encoding": {
      "x": {"field":"l","type":"quantitative","scale":{"domain":[0,70000],"range":[863,1183],"nice":false,"zero":false},"axis":null},
      "y": {"datum":-0.2,"type":"quantitative","scale":{"domain":[-0.2,1.2],"range":[607,382],"nice":false,"zero":false},"axis":null},
      "y2": {"datum":1.2}
     }},
    {"data": {"name":"marker"},
     "mark": {"type":"text","align":"left","baseline":"middle","dx":9,"font":"Open Sans","fontStyle":"italic","fontSize":13,"color":"#e8361e"},
     "encoding": {
      "x": {"field":"l","type":"quantitative","scale":{"domain":[0,70000],"range":[863,1183],"nice":false,"zero":false},"axis":null},
      "y": {"datum":1.1,"type":"quantitative","scale":{"domain":[-0.2,1.2],"range":[607,382],"nice":false,"zero":false},"axis":null},
      "text": {"field":"label"}
     }}
   ],
   "resolve": {"axis": {"x":"independent","y":"independent"}}
  }
 ],
 "resolve": {"scale": {"x":"independent","y":"independent","size":"independent"}, "axis": {"x":"independent","y":"independent"}}
}
